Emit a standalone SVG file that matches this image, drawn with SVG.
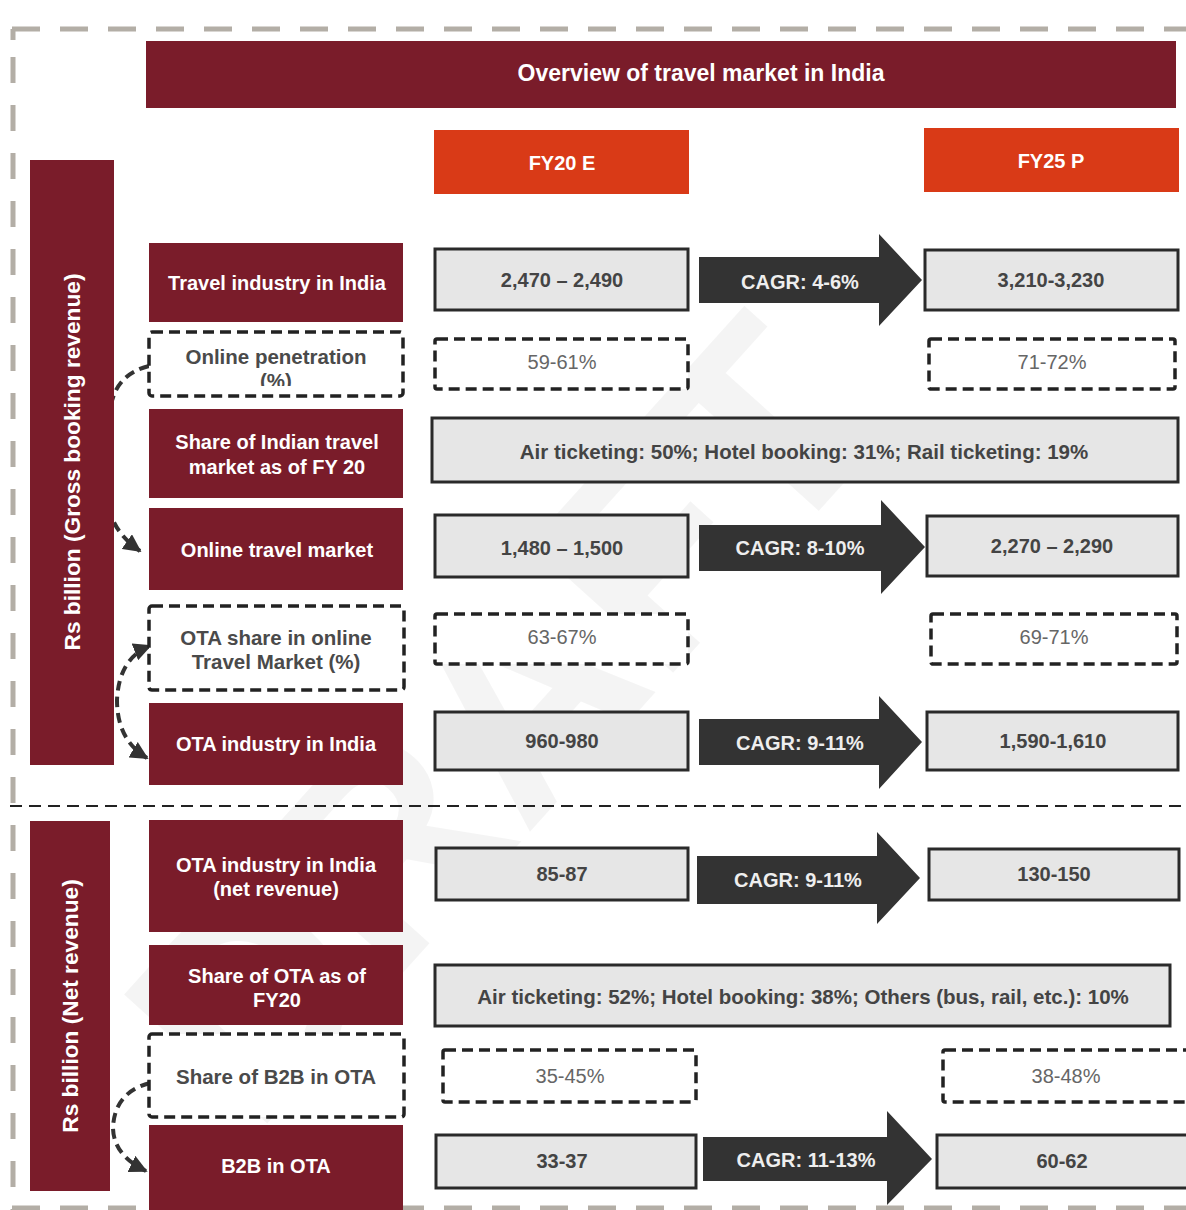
<svg xmlns="http://www.w3.org/2000/svg" width="1186" height="1210" viewBox="0 0 1186 1210">
<defs>
<style>
.lbl{fill:#7a1c2a}
.bar{fill:#7a1c2a}
.fy{fill:#d93a17}
.val{fill:#e6e6e6;stroke:#2a2a2a;stroke-width:3}
.dval{fill:#fff;stroke:#222;stroke-width:3.5;stroke-dasharray:11 6}
.arr{fill:#333}
.tw{font-family:"Liberation Sans",Arial,sans-serif;font-weight:bold;font-size:20px;fill:#fff;text-anchor:middle;dominant-baseline:central}
.tg{font-family:"Liberation Sans",Arial,sans-serif;font-weight:bold;font-size:20.5px;fill:#4a4a4a;text-anchor:middle;dominant-baseline:central}
.tv{font-family:"Liberation Sans",Arial,sans-serif;font-weight:bold;font-size:20px;fill:#444;text-anchor:middle;dominant-baseline:central}
.td{font-family:"Liberation Sans",Arial,sans-serif;font-size:20px;fill:#666;text-anchor:middle;dominant-baseline:central}
.tc{font-family:"Liberation Sans",Arial,sans-serif;font-weight:bold;font-size:20px;fill:#eee;text-anchor:middle;dominant-baseline:central}
.conn{fill:none;stroke:#333;stroke-width:4;stroke-dasharray:10 6}
.border{fill:none;stroke:#b3aea6;stroke-width:5}
</style>
<marker id="ah" viewBox="0 0 10 10" refX="9" refY="5" markerWidth="4.5" markerHeight="4.5" orient="auto-start-reverse" markerUnits="strokeWidth">
<path d="M0,0 L10,5 L0,10 z" fill="#333"/>
</marker>
<clipPath id="clipOP"><rect x="149" y="332" width="255" height="54"/></clipPath>
</defs>
<rect width="1186" height="1210" fill="#fff"/>
<text x="0" y="0" transform="translate(500,720) rotate(-48)" font-family="Liberation Sans,Arial,sans-serif" font-weight="bold" font-size="280" fill="#000" fill-opacity="0.045" text-anchor="middle" dominant-baseline="central">DRAFT</text>
<g id="frame">
<path class="border" d="M12,29 H1186" stroke-dasharray="28 20"/>
<path class="border" d="M13,29 V40"/>
<path class="border" d="M13,57 V1210" stroke-dasharray="26 22"/>
<path class="border" d="M12,1208 H1186" stroke-dasharray="28 20"/>
<path d="M10,806 H1186" fill="none" stroke="#222" stroke-width="2" stroke-dasharray="12 7"/>
</g>
<g id="connectors">
<path class="conn" d="M149,366 Q117,374 111,405 L110,512 Q116,534 140,551" marker-end="url(#ah)"/>
<path class="conn" d="M150,646 Q119,658 117,700 Q117,740 147,758" marker-start="url(#ah)" marker-end="url(#ah)"/>
<path class="conn" d="M150,1083 Q115,1092 113,1127 Q113,1155 146,1171" marker-end="url(#ah)"/>
</g>
<g id="title"><rect x="146" y="41" width="1030" height="67" class="lbl"/><text class="tw" x="701" y="73" style="font-size:23px">Overview of travel market in India</text></g>
<g id="fy20"><rect x="434" y="130" width="255" height="64" class="fy"/><text class="tw" x="562" y="163">FY20 E</text></g>
<g id="fy25"><rect x="924" y="128" width="255" height="64" class="fy"/><text class="tw" x="1051" y="161">FY25 P</text></g>
<g id="axis-gross"><rect x="30" y="160" width="84" height="605" class="bar"/><text class="tw" style="font-size:22.7px" transform="translate(72,462) rotate(-90)">Rs billion (Gross booking revenue)</text></g>
<g id="axis-net"><rect x="30" y="821" width="80" height="370" class="bar"/><text class="tw" style="font-size:22.7px" transform="translate(70,1006) rotate(-90)">Rs billion (Net revenue)</text></g>

<g id="travel-industry"><rect x="149" y="243" width="254" height="79" class="lbl"/><text class="tw" x="277" y="283">Travel industry in India</text></g>
<g id="online-penetration"><rect x="149" y="332" width="254" height="64" rx="3" class="dval"/><g clip-path="url(#clipOP)"><text class="tg" x="276" y="356">Online penetration</text><text class="tg" x="276" y="380">(%)</text></g></g>
<g id="share-indian"><rect x="149" y="409" width="254" height="89" class="lbl"/><text class="tw" x="277" y="442">Share of Indian travel</text><text class="tw" x="277" y="467">market as of FY 20</text></g>
<g id="online-travel"><rect x="149" y="508" width="254" height="82" class="lbl"/><text class="tw" x="277" y="550">Online travel market</text></g>
<g id="ota-share"><rect x="149" y="606" width="255" height="84" rx="3" class="dval"/><text class="tg" x="276" y="637">OTA share in online</text><text class="tg" x="276" y="661">Travel Market (%)</text></g>
<g id="ota-industry"><rect x="149" y="703" width="254" height="82" class="lbl"/><text class="tw" x="276" y="744">OTA industry in India</text></g>
<g id="ota-net"><rect x="149" y="820" width="254" height="112" class="lbl"/><text class="tw" x="276" y="865">OTA industry in India</text><text class="tw" x="276" y="889">(net revenue)</text></g>
<g id="share-ota"><rect x="149" y="945" width="254" height="80" class="lbl"/><text class="tw" x="277" y="976">Share of OTA as of</text><text class="tw" x="277" y="1000">FY20</text></g>
<g id="share-b2b"><rect x="149" y="1034" width="255" height="83" rx="3" class="dval"/><text class="tg" x="276" y="1076">Share of B2B in OTA</text></g>
<g id="b2b"><rect x="149" y="1125" width="254" height="90" class="lbl"/><text class="tw" x="276" y="1166">B2B in OTA</text></g>

<g id="r1-fy20"><rect x="435" y="249" width="253" height="61" class="val"/><text class="tv" x="562" y="280">2,470 – 2,490</text></g>
<g id="r1-cagr"><path class="arr" d="M699,257 H879 V234 L922,280 L879,326 V303 H699 Z"/><text class="tc" x="800" y="282">CAGR: 4-6%</text></g>
<g id="r1-fy25"><rect x="925" y="250" width="253" height="60" class="val"/><text class="tv" x="1051" y="280">3,210-3,230</text></g>

<g id="r2-fy20"><rect x="435" y="339" width="253" height="50" rx="2" class="dval"/><text class="td" x="562" y="362">59-61%</text></g>
<g id="r2-fy25"><rect x="929" y="339" width="246" height="50" rx="2" class="dval"/><text class="td" x="1052" y="362">71-72%</text></g>

<g id="r3-share"><rect x="432" y="418" width="746" height="64" class="val"/><text class="tv" x="804" y="451" style="font-size:20.5px">Air ticketing: 50%; Hotel booking: 31%; Rail ticketing: 19%</text></g>

<g id="r4-fy20"><rect x="435" y="515" width="253" height="62" class="val"/><text class="tv" x="562" y="548">1,480 – 1,500</text></g>
<g id="r4-cagr"><path class="arr" d="M699,525 H881 V500 L925,547 L881,594 V571 H699 Z"/><text class="tc" x="800" y="548">CAGR: 8-10%</text></g>
<g id="r4-fy25"><rect x="927" y="516" width="251" height="60" class="val"/><text class="tv" x="1052" y="546">2,270 – 2,290</text></g>

<g id="r5-fy20"><rect x="435" y="614" width="253" height="50" rx="2" class="dval"/><text class="td" x="562" y="637">63-67%</text></g>
<g id="r5-fy25"><rect x="931" y="614" width="246" height="50" rx="2" class="dval"/><text class="td" x="1054" y="637">69-71%</text></g>

<g id="r6-fy20"><rect x="435" y="712" width="253" height="58" class="val"/><text class="tv" x="562" y="741">960-980</text></g>
<g id="r6-cagr"><path class="arr" d="M699,719 H879 V696 L922,742 L879,789 V765 H699 Z"/><text class="tc" x="800" y="743">CAGR: 9-11%</text></g>
<g id="r6-fy25"><rect x="927" y="712" width="251" height="58" class="val"/><text class="tv" x="1053" y="741">1,590-1,610</text></g>

<g id="r7-fy20"><rect x="436" y="848" width="252" height="52" class="val"/><text class="tv" x="562" y="874">85-87</text></g>
<g id="r7-cagr"><path class="arr" d="M697,856 H877 V832 L920,878 L877,924 V904 H697 Z"/><text class="tc" x="798" y="880">CAGR: 9-11%</text></g>
<g id="r7-fy25"><rect x="929" y="849" width="250" height="51" class="val"/><text class="tv" x="1054" y="874">130-150</text></g>

<g id="r8-share"><rect x="435" y="965" width="735" height="61" class="val"/><text class="tv" x="803" y="996" style="font-size:20.5px">Air ticketing: 52%; Hotel booking: 38%; Others (bus, rail, etc.): 10%</text></g>

<g id="r9-fy20"><rect x="443" y="1050" width="253" height="52" rx="2" class="dval"/><text class="td" x="570" y="1076">35-45%</text></g>
<g id="r9-fy25"><rect x="943" y="1050" width="250" height="52" rx="2" class="dval"/><text class="td" x="1066" y="1076">38-48%</text></g>

<g id="r10-fy20"><rect x="436" y="1135" width="260" height="53" class="val"/><text class="tv" x="562" y="1161">33-37</text></g>
<g id="r10-cagr"><path class="arr" d="M703,1137 H887 V1111 L932,1159 L887,1205 V1181 H703 Z"/><text class="tc" x="806" y="1160">CAGR: 11-13%</text></g>
<g id="r10-fy25"><rect x="937" y="1135" width="253" height="53" class="val"/><text class="tv" x="1062" y="1161">60-62</text></g>
</svg>
